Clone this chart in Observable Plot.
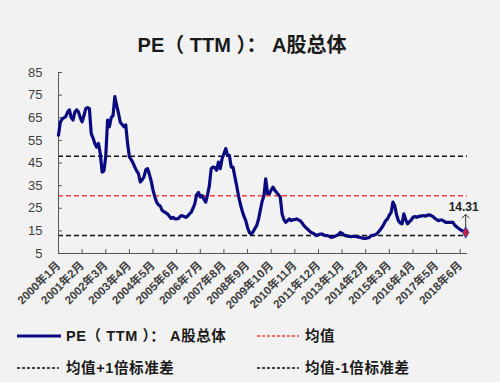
<!DOCTYPE html>
<html>
<head>
<meta charset="utf-8">
<script src="https://cdn.jsdelivr.net/npm/d3@7"></script>
<script src="https://cdn.jsdelivr.net/npm/@observablehq/plot@0.6"></script>
<style>
  html, body { margin:0; padding:0; background:#f2f2f2; }
  #wrap { position:relative; width:500px; height:382px; background:#f2f2f2; overflow:hidden;
          font-family:"Liberation Sans","Noto Sans CJK SC",sans-serif; color:#1a1a1a; }
  #title { position:absolute; left:0; width:484px; top:29px; text-align:center; font-size:20px; font-weight:bold; white-space:pre; }
  #chart { position:absolute; left:0; top:62px; }
  .leg { position:absolute; font-size:14.5px; font-weight:bold; line-height:18px; white-space:pre; letter-spacing:0.6px; }
  .sw { position:absolute; }
</style>
</head>
<body>
<div id="wrap">
  <div id="title">PE（ TTM ）： A股总体</div>
  <div id="chart"></div>
  <svg class="sw" style="left:15px;top:330px" width="50" height="12"><line x1="2" x2="46" y1="6" y2="6" stroke="#0a0a80" stroke-width="3"/></svg>
  <div class="leg" style="left:66px;top:327px">PE（ TTM ）： A股总体</div>
  <svg class="sw" style="left:255px;top:330px" width="50" height="12"><line x1="2" x2="44" y1="6" y2="6" stroke="#ff4040" stroke-width="1.5" stroke-dasharray="3,2"/></svg>
  <div class="leg" style="left:305px;top:327px">均值</div>
  <svg class="sw" style="left:15px;top:362px" width="50" height="12"><line x1="2" x2="44" y1="6" y2="6" stroke="#111" stroke-width="1.5" stroke-dasharray="3,2"/></svg>
  <div class="leg" style="left:66px;top:359px">均值+1倍标准差</div>
  <svg class="sw" style="left:255px;top:362px" width="50" height="12"><line x1="2" x2="44" y1="6" y2="6" stroke="#111" stroke-width="1.5" stroke-dasharray="3,2"/></svg>
  <div class="leg" style="left:305px;top:359px">均值-1倍标准差</div>
</div>
<script>
// Monthly PE (TTM) of all A shares, starting 2000年1月
const pe = [
  57.3, 63, 64.5, 65, 65.5, 67.5, 68.5, 65, 64, 67.5, 68.5, 67.5, 65, 63.2, 66, 69, 69.5, 69, 58, 56,
  53.6, 52, 53.6, 49, 41, 41.5, 48, 64, 61, 65, 66, 74.3, 70.5, 67, 63, 62, 61, 61.8, 53.6, 47.7,
  46.5, 45, 43.2, 41.5, 40.3, 36.6, 37.5, 38.8, 42, 42.5, 40, 37, 33, 30, 27.7, 26.5, 26, 24, 23.5, 23,
  22.5, 21.5, 20.5, 21, 20.3, 20.3, 20.5, 21.5, 21.8, 21.3, 21, 21.5, 22.5, 23.2, 25, 27, 31, 32, 30, 30.6,
  29, 27.7, 31, 35, 42.5, 43.2, 43, 41.8, 45.4, 42.5, 47, 49, 51.4, 48.4, 48.4, 43.2, 43.2, 39, 35, 30.6,
  27, 24, 21.5, 19.5, 16.5, 14.3, 13.6, 14.5, 16, 17.3, 20, 24, 28, 30.5, 38, 31.4, 31.4, 33, 34.3, 33,
  32, 31, 29.9, 22.5, 20, 18.8, 19.5, 20.3, 19.5, 20, 20, 20.3, 19.8, 19.5, 18.5, 17.3, 16.5, 15.8, 15, 14.3,
  14, 13.5, 12.9, 13.3, 13.6, 13.6, 13.2, 12.9, 12.9, 12.6, 12.1, 12.3, 12.6, 12.9, 13.4, 14.3, 14, 13.2, 12.9, 12.7,
  12.5, 12.4, 12.6, 12.6, 12.4, 12.2, 12.1, 11.9, 11.7, 11.7, 11.9, 12.1, 12.9, 13, 13.3, 13.6, 14.5, 15.5, 16.6, 18,
  19.5, 20.3, 22, 23.2, 27.7, 26, 22, 19.5, 18.5, 18.1, 22.5, 20, 18.1, 19, 19.8, 21, 21.3, 21, 21.3, 21.5,
  21.6, 21.8, 21.5, 22, 22.1, 21.8, 21.3, 20.6, 20, 19.5, 19.8, 19.8, 19.3, 18.8, 18.8, 18.8, 18.8, 18.8, 17.5, 16.8,
  16.2, 15.6, 15.1, 14.8, 14.31
];
const tickLabels = ["2000年1月","2001年2月","2002年3月","2003年4月","2004年5月","2005年6月","2006年7月","2007年8月","2008年9月","2009年10月","2010年11月","2011年12月","2013年1月","2014年2月","2015年3月","2016年4月","2017年5月","2018年6月"];
const tickStep = 13;
const yTicks = [5, 15, 25, 35, 45, 55, 65, 75, 85];
const meanValue = 30.5;
const upperValue = 48;
const lowerValue = 13;

const data = pe.map((v, i) => ({i, v}));
const last = [data[data.length - 1]];
const xTicks = tickLabels.map((_, k) => k * tickStep);

const chart = Plot.plot({
  width: 500, height: 250,
  marginLeft: 58, marginRight: 33, marginTop: 10, marginBottom: 59,
  style: {background: "transparent", fontFamily: "'Liberation Sans','Noto Sans CJK SC',sans-serif", fontSize: "12px", color: "#404040"},
  x: {domain: [0, 225]},
  y: {domain: [5, 85]},
  marks: [
    Plot.ruleY([meanValue], {stroke: "#ff4040", strokeWidth: 1.5, strokeDasharray: "5,3"}),
    Plot.ruleY([upperValue, lowerValue], {stroke: "#111", strokeWidth: 1.5, strokeDasharray: "5,3"}),
    Plot.ruleX([0], {stroke: "#555"}),
    Plot.ruleY([5], {stroke: "#555"}),
    Plot.axisY({ticks: yTicks, tickSize: -4, tickPadding: 20, label: null, fontSize: 13, stroke: "#555"}),
    Plot.axisX({ticks: xTicks, tickFormat: d => tickLabels[Math.round(d / tickStep)], tickRotate: -45, tickSize: -4, tickPadding: 14, label: null, fontSize: 11.5, fontWeight: "bold", stroke: "#555"}),
    Plot.line(data, {x: "i", y: "v", stroke: "#0a0a80", strokeWidth: 3.2, strokeLinejoin: "round"}),
    Plot.vector(last, {x: "i", y: "v", length: 18, rotate: 0, anchor: "start", stroke: "#333", strokeWidth: 1}),
    Plot.dot(last, {x: "i", y: "v", symbol: "diamond", r: 3.5, fill: "#c0204a", stroke: "#3050c0", strokeWidth: 0.8}),
    Plot.text(last, {x: "i", y: "v", text: d => d.v.toFixed(2), dy: -25, dx: -2, fontSize: 12, fontWeight: "bold", fill: "#222"})
  ]
});
document.getElementById("chart").appendChild(chart);
</script>
</body>
</html>
